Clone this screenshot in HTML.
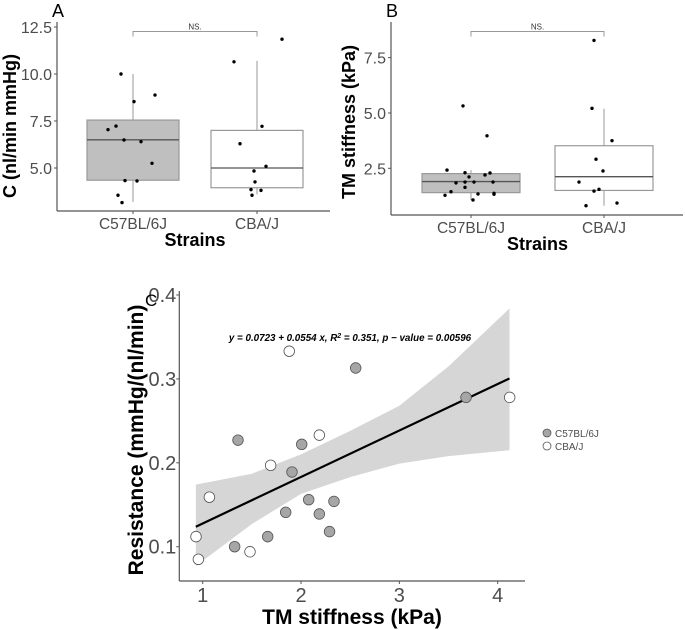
<!DOCTYPE html>
<html><head><meta charset="utf-8"><style>
body{margin:0;background:#fff}
svg{display:block;font-family:"Liberation Sans",sans-serif}
</style></head><body>
<svg id="s" width="685" height="630" xmlns="http://www.w3.org/2000/svg"></svg>
<script>
// Panel A data
const aCats=["C57BL/6J","CBA/J"];
const aBoxes=[[3.2,4.35,6.5,7.55,10.0],[3.6,3.95,5.0,7.0,10.7]];
const aPtsB6=[10.0,8.53,8.88,7.23,7.04,6.49,6.40,5.25,4.33,4.31,3.55,3.16];
const aJitB6=[-12,1,22,-17,-25,-9,8,19,-8,4,-15,-11];
const aPtsCBA=[11.85,10.65,7.22,6.29,5.09,4.84,4.26,3.85,3.81,3.55];
const aJitCBA=[25,-23,5,-17,9,-3,-2,-6,4,-5];
const aTicks=[5.0,7.5,10.0,12.5];
// Panel B data
const bBoxes=[[1.07,1.40,1.90,2.26,2.42],[0.81,1.50,2.12,3.52,5.19]];
const bPtsB6=[5.32,3.97,2.42,2.30,2.29,2.20,2.11,1.84,1.88,1.88,1.88,1.64,1.44,1.34,1.37,1.33,1.28,1.07];
const bJitB6=[-8,16,-24,-6,19,14,-2,-15,-6,3,22,-6,-20,7,23,23,-26,2];
const bPtsCBA=[8.28,5.21,3.75,2.91,2.38,1.88,1.55,1.47,0.81,0.93];
const bJitCBA=[-10,-12,8,-8,-1,-25,-5,-10,-18,13];
const bTicks=[2.5,5.0,7.5];
// Panel C data
const cGreyX=[2.556,3.678,1.359,2.007,1.908,2.078,2.335,1.844,2.186,1.661,2.29,1.325];
const cGreyY=[0.313,0.278,0.227,0.222,0.189,0.156,0.154,0.141,0.139,0.112,0.118,0.100];
const cWhiteX=[1.88,4.122,2.186,1.691,1.068,0.932,0.956,1.481];
const cWhiteY=[0.333,0.278,0.233,0.197,0.159,0.112,0.085,0.094];
const cBandX=[0.93,1.5,2,2.5,3,3.5,4.12];
const cBandUp=[0.174,0.187,0.210,0.238,0.268,0.315,0.384];
const cBandLo=[0.077,0.127,0.163,0.183,0.199,0.208,0.215];
const cFit=[0.0723,0.0554];
const cXTicks=[1,2,3,4];
const cYTicks=[0.1,0.2,0.3,0.4];

const S=document.getElementById('s');
const NS="http://www.w3.org/2000/svg";
function el(tag,attrs,parent){const e=document.createElementNS(NS,tag);for(const k in attrs)e.setAttribute(k,attrs[k]);(parent||S).appendChild(e);return e;}
function txt(str,attrs,parent){const e=el('text',attrs,parent);e.textContent=str;return e;}

function boxPanel(cfg){
  const g=el('g',{});
  
  
  const y=v=>cfg.y0-(v-cfg.v0)*cfg.k;
  const ya=el('line',{x1:cfg.left,y1:cfg.top,x2:cfg.left,y2:cfg.bottom,stroke:'#555','stroke-width':1.2},g);
  
  const xa=el('line',{x1:cfg.left,y1:cfg.bottom,x2:cfg.right,y2:cfg.bottom,stroke:'#555','stroke-width':1.2},g);
  
  cfg.ticks.forEach(t=>{
    el('line',{x1:cfg.left-3,x2:cfg.left,y1:y(t),y2:y(t),stroke:'#555'},g);
    const tl=txt(t.toFixed(1),{x:cfg.left-5,y:y(t)+6,'font-size':16,fill:'#4d4d4d','text-anchor':'end'},g);
    
  });
  const pts=[cfg.p1,cfg.p2],jit=[cfg.j1,cfg.j2];
  cfg.boxes.forEach((b,i)=>{
    const cx=cfg.cx[i];
    el('line',{x1:cx,y1:cfg.bottom,x2:cx,y2:cfg.bottom+3,stroke:'#555'},g);
    const xl=txt(aCats[i],{x:cx,y:cfg.bottom+18,'font-size':15.5,fill:'#4d4d4d','text-anchor':'middle'},g);
    
    el('line',{x1:cx,x2:cx,y1:y(b[0]),y2:y(b[4]),stroke:'#999','stroke-width':1},g);
    const r=el('rect',{x:cx-cfg.hw,y:y(b[3]),width:cfg.hw*2,height:y(b[1])-y(b[3]),fill:i==0?'#bfbfbf':'#fff',stroke:'#999','stroke-width':1.2},g);
    
    el('line',{x1:cx-cfg.hw,x2:cx+cfg.hw,y1:y(b[2]),y2:y(b[2]),stroke:'#555','stroke-width':1.3},g);
    pts[i].forEach((v,j)=>{
      const c=el('circle',{cx:cx+jit[i][j],cy:y(v),r:1.7,fill:'#000'},g);
      
    });
  });
  const br=el('path',{d:`M${cfg.cx[0]},${cfg.brY+5}V${cfg.brY}H${cfg.cx[1]}V${cfg.brY+5}`,fill:'none',stroke:'#999','stroke-width':1},g);
  
  const ns=txt('NS.',{x:(cfg.cx[0]+cfg.cx[1])/2,y:cfg.brY-2,'font-size':8,fill:'#333','text-anchor':'middle'},g);
  
  const yt=txt(cfg.ytitle,{x:0,y:0,'font-size':18,'font-weight':'bold','text-anchor':'middle',transform:`translate(${cfg.ytx},${cfg.yty}) rotate(-90)`},g);
  
  const xt=txt('Strains',{x:(cfg.cx[0]+cfg.cx[1])/2,y:cfg.bottom+35,'font-size':18,'font-weight':'bold','text-anchor':'middle'},g);
  
  const pl=txt(cfg.letter,{x:cfg.lx,y:17,'font-size':18},g);
  
}
boxPanel({name:'panel-a',left:57,right:330,top:22,bottom:211,y0:168,v0:5,k:18.8,ticks:aTicks,cx:[133,257],hw:46,
  boxes:aBoxes,p1:aPtsB6,p2:aPtsCBA,j1:aJitB6,j2:aJitCBA,brY:31.5,ytitle:'C (nl/min mmHg)',ytx:16,yty:126,letter:'A',lx:52});
boxPanel({name:'panel-b',left:391,right:683,top:22,bottom:215,y0:168.3,v0:2.5,k:22.13,ticks:bTicks,cx:[471,604],hw:49,
  boxes:bBoxes,p1:bPtsB6,p2:bPtsCBA,j1:bJitB6,j2:bJitCBA,brY:31.5,ytitle:'TM stiffness (kPa)',ytx:355,yty:122,letter:'B',lx:386});

// Panel C
(function(){
  const g=el('g',{});
  
  
  const L=179.3,B=581,R=525,T=291;
  const x=v=>202.7+(v-1)*98.33;
  const y=v=>546.7-(v-0.1)*839;
  let d='M'+cBandX.map((v,i)=>x(v)+','+y(cBandUp[i])).join('L');
  for(let i=cBandX.length-1;i>=0;i--)d+='L'+x(cBandX[i])+','+y(cBandLo[i]);
  const band=el('path',{d:d+'Z',fill:'#d6d6d6'},g);
  
  const ya=el('line',{x1:L,y1:T,x2:L,y2:B,stroke:'#555','stroke-width':1.2},g);
  
  const xa=el('line',{x1:L,y1:B,x2:R,y2:B,stroke:'#555','stroke-width':1.2},g);
  
  cYTicks.forEach(t=>{
    el('line',{x1:L-3,x2:L,y1:y(t),y2:y(t),stroke:'#555'},g);
    const tl=txt(String(t),{x:L-3,y:y(t)+7,'font-size':20,fill:'#4d4d4d','text-anchor':'end'},g);
    
  });
  cXTicks.forEach(t=>{
    el('line',{x1:x(t),x2:x(t),y1:B,y2:B+3,stroke:'#555'},g);
    const tl=txt(String(t),{x:x(t),y:B+21,'font-size':20,fill:'#4d4d4d','text-anchor':'middle'},g);
    
  });
  const x0=cBandX[0],x1=cBandX[cBandX.length-1];
  const fl=el('line',{x1:x(x0),y1:y(cFit[0]+cFit[1]*x0),x2:x(x1),y2:y(cFit[0]+cFit[1]*x1),stroke:'#000','stroke-width':2.2},g);
  
  cGreyX.forEach((v,i)=>{
    const c=el('circle',{cx:x(v),cy:y(cGreyY[i]),r:5.3,fill:'#a6a6a6',stroke:'#555','stroke-width':0.8},g);
    
  });
  cWhiteX.forEach((v,i)=>{
    const c=el('circle',{cx:x(v),cy:y(cWhiteY[i]),r:5.3,fill:'#fff',stroke:'#555','stroke-width':0.8},g);
    
  });
  const eq=txt('',{x:350,y:341,'font-size':9.8,'font-weight':'bold','text-anchor':'middle','font-style':'italic'},g);
  eq.innerHTML='y = 0.0723 + 0.0554 x, R<tspan dy="-3" font-size="7">2</tspan><tspan dy="3"> = 0.351, p − value = 0.00596</tspan>';
  
  const yt=txt('Resistance (mmHg/(nl/min)',{x:0,y:0,'font-size':21,'font-weight':'bold','text-anchor':'middle',transform:'translate(143,440) rotate(-90)'},g);
  
  const xt=txt('TM stiffness (kPa)',{x:352,y:624,'font-size':21,'font-weight':'bold','text-anchor':'middle'},g);
  
  const pl=txt('C',{x:145,y:306,'font-size':17},g);
  
  [['#a6a6a6','C57BL/6J',433],['#fff','CBA/J',446]].forEach(e=>{
    const lg=el('g',{},g);
    
    el('circle',{cx:547,cy:e[2],r:4,fill:e[0],stroke:'#555','stroke-width':0.8},lg);
    txt(e[1],{x:555,y:e[2]+4,'font-size':10,fill:'#4d4d4d'},lg);
  });
})();
</script>
</body></html>
